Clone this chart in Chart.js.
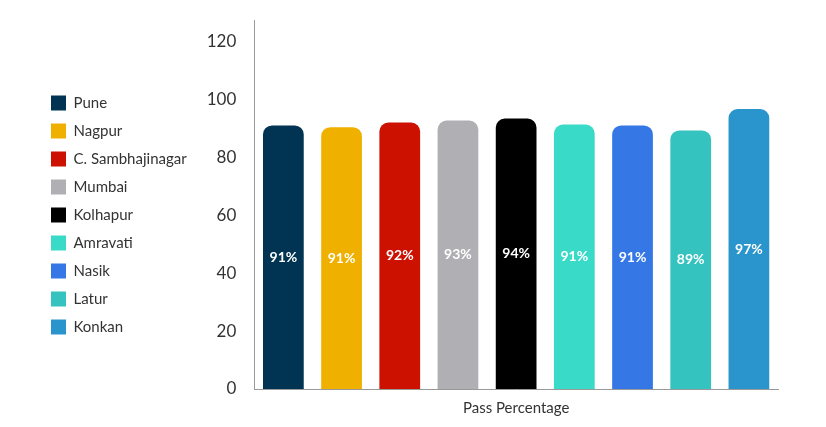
<!DOCTYPE html>
<html><head><meta charset="utf-8">
<script src="https://cdn.jsdelivr.net/npm/chart.js@4"></script>
<style>html,body{margin:0;padding:0;background:#fff}#w{width:826px;height:427px}</style>
</head><body><div id="w"><canvas id="c"></canvas></div>
<script>
const categories = ["Pass Percentage"];
const regions = ["Pune","Nagpur","C. Sambhajinagar","Mumbai","Kolhapur","Amravati","Nasik","Latur","Konkan"];
const values = [91.1, 90.5, 92.1, 92.8, 93.5, 91.4, 91.1, 89.4, 96.8];
const labels = ["91%","91%","92%","93%","94%","91%","91%","89%","97%"];
const colors = ["#003452","#f0b000","#cc1100","#b0b0b4","#000000","#3adac8","#3578e5","#34c3be","#2a95cc"];
const yTicks = [0,20,40,60,80,100,120];

const valueLabels = {
  id:'valueLabels',
  afterDatasetsDraw(chart){
    const ctx = chart.ctx;
    ctx.save();
    ctx.font = 'bold 14px Lato, sans-serif';
    ctx.fillStyle = '#ffffff';
    ctx.textAlign = 'center';
    ctx.textBaseline = 'middle';
    chart.data.datasets.forEach((ds,i)=>{
      const m = chart.getDatasetMeta(i);
      if (m.hidden) return;
      m.data.forEach(el=>{
        ctx.fillText(labels[i], el.x, (el.y+el.base)/2);
      });
    });
    ctx.restore();
  }
};

new Chart(document.getElementById('c'), {
  type:'bar',
  data:{
    labels: categories,
    datasets: regions.map((r,i)=>({
      label:r, data:[values[i]], backgroundColor:colors[i],
      borderRadius:{topLeft:9,topRight:9}, borderSkipped:'bottom',
      barPercentage:0.7, categoryPercentage:1
    }))
  },
  options:{
    responsive:true, maintainAspectRatio:false, animation:false,
    layout:{padding:{left:38,right:48,top:3,bottom:0}},
    plugins:{
      legend:{position:'left', align:'center',
        labels:{boxWidth:15, boxHeight:15, padding:13, color:'#333', font:{family:'Lato, sans-serif', size:15}}},
      tooltip:{enabled:false}
    },
    scales:{
      x:{grid:{display:false, drawTicks:false}, border:{color:'#999'},
         ticks:{color:'#333', padding:10, font:{family:'Lato, sans-serif', size:15}}},
      y:{min:0, max:127.5, grid:{display:false}, border:{color:'#999'},
         afterBuildTicks(s){ s.ticks = yTicks.map(v=>({value:v})); },
         ticks:{color:'#333', padding:10, font:{family:'Lato, sans-serif', size:17}}}
    }
  },
  plugins:[valueLabels]
});
</script></body></html>
